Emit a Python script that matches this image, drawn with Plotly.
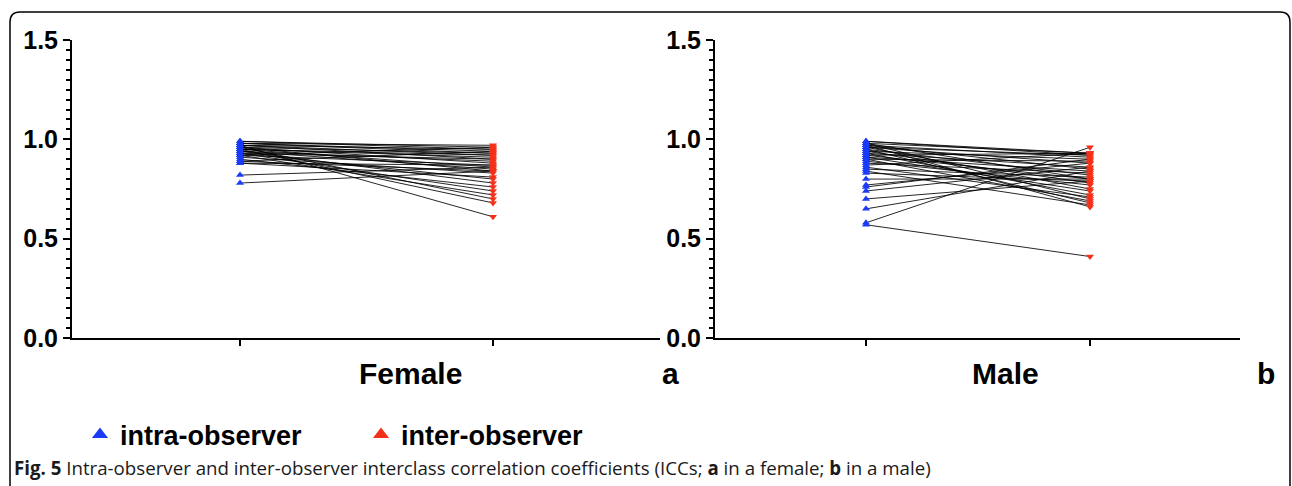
import plotly.graph_objects as go

# ---------------- data ----------------
groups = ["intra-observer", "inter-observer"]

female_intra = [0.99, 0.99, 0.98, 0.98, 0.98, 0.97, 0.97, 0.97, 0.97, 0.96, 0.96, 0.96, 0.96,
                0.95, 0.95, 0.95, 0.95, 0.94, 0.94, 0.94, 0.93, 0.93, 0.93, 0.92, 0.92, 0.92,
                0.91, 0.90, 0.89, 0.89, 0.88, 0.88, 0.82, 0.78]
female_inter = [0.96, 0.95, 0.97, 0.93, 0.94, 0.92, 0.95, 0.90, 0.61, 0.88, 0.93, 0.70, 0.84,
                0.91, 0.86, 0.68, 0.92, 0.78, 0.89, 0.85, 0.74, 0.90, 0.80, 0.87, 0.72, 0.96,
                0.83, 0.76, 0.84, 0.94, 0.81, 0.87, 0.86, 0.84]

male_intra = [0.99, 0.99, 0.98, 0.98, 0.98, 0.97, 0.97, 0.97, 0.96, 0.96, 0.96, 0.95, 0.95,
              0.94, 0.94, 0.93, 0.93, 0.92, 0.92, 0.91, 0.91, 0.90, 0.90, 0.89, 0.88, 0.87,
              0.86, 0.85, 0.84, 0.83, 0.80, 0.77, 0.76, 0.74, 0.70, 0.65, 0.58, 0.57]
male_inter = [0.93, 0.92, 0.80, 0.93, 0.70, 0.91, 0.85, 0.66, 0.92, 0.75, 0.88, 0.82, 0.68,
              0.90, 0.78, 0.86, 0.72, 0.93, 0.80, 0.74, 0.84, 0.89, 0.69, 0.77, 0.83, 0.93,
              0.71, 0.81, 0.67, 0.79, 0.80, 0.88, 0.90, 0.86, 0.79, 0.84, 0.96, 0.41]

y_tickvals = [0.0, 0.5, 1.0, 1.5]
y_ticktext = ["0.0", "0.5", "1.0", "1.5"]
panel_labels = ["Female", "Male"]
panel_letters = ["a", "b"]

BLUE = "#1a3cf5"
RED = "#f5301a"
FONT = "Liberation Sans, Arial, Helvetica, sans-serif"

W, H = 1292, 486


def px(x):
    return x / W


def py(y):
    return 1 - y / H


fig = go.Figure()

panels = [(female_intra, female_inter, "x", "y"), (male_intra, male_inter, "x2", "y2")]
for intra, inter, xa, ya in panels:
    lx, ly = [], []
    for a, b in zip(intra, inter):
        lx += [0, 1, None]
        ly += [a, b, None]
    fig.add_trace(go.Scatter(x=lx, y=ly, mode="lines", xaxis=xa, yaxis=ya,
                             line=dict(color="rgba(0,0,0,0.85)", width=1),
                             showlegend=False, hoverinfo="skip"))
    fig.add_trace(go.Scatter(x=[0] * len(intra), y=intra, mode="markers", xaxis=xa, yaxis=ya,
                             marker=dict(symbol="triangle-up", size=7, color=BLUE),
                             showlegend=False))
    fig.add_trace(go.Scatter(x=[1] * len(inter), y=inter, mode="markers", xaxis=xa, yaxis=ya,
                             marker=dict(symbol="triangle-down", size=7, color=RED),
                             showlegend=False))

# legend entries
fig.add_trace(go.Scatter(x=[None], y=[None], mode="markers", name=groups[0],
                         marker=dict(symbol="triangle-up", size=14, color=BLUE)))
fig.add_trace(go.Scatter(x=[None], y=[None], mode="markers", name=groups[1],
                         marker=dict(symbol="triangle-up", size=14, color=RED)))

y_common = dict(range=[0, 1.5], tickvals=y_tickvals, ticktext=y_ticktext,
                showline=True, linecolor="black", linewidth=2, automargin=False,
                ticks="outside", ticklen=7, tickwidth=2, tickcolor="black",
                minor=dict(dtick=0.05, ticks="outside", ticklen=4, tickwidth=1.5, tickcolor="black"),
                showgrid=False, zeroline=False,
                tickfont=dict(family=FONT, size=25, color="black", weight="bold"))
x_common = dict(tickvals=[0, 1], showticklabels=False, ticks="outside", ticklen=6, tickwidth=1.5,
                tickcolor="black", showline=True, linecolor="black", linewidth=1.5, automargin=False,
                showgrid=False, zeroline=False)

y0, y15 = 338, 40
ydom = [py(y0), py(y15)]

fig.update_layout(
    width=W, height=H, autosize=False,
    margin=dict(l=0, r=0, t=0, b=0, pad=0, autoexpand=False),
    paper_bgcolor="white", plot_bgcolor="white",
    xaxis=dict(domain=[px(72), px(660)], range=[-(240 - 72) / 253, (660 - 240) / 253], **x_common),
    yaxis=dict(domain=ydom, anchor="x", **y_common),
    xaxis2=dict(domain=[px(715), px(1240)], range=[-(866 - 715) / 224, (1240 - 866) / 224],
                anchor="y2", **x_common),
    yaxis2=dict(domain=ydom, anchor="x2", **y_common),
    showlegend=True,
    legend=dict(orientation="h", x=px(80), y=py(435), xanchor="left", yanchor="middle",
                entrywidth=236, entrywidthmode="pixels", bgcolor="rgba(0,0,0,0)",
                font=dict(family=FONT, size=27, color="black", weight="bold"),
                itemsizing="trace"),
)

for xc, t in [(410, panel_labels[0]), (1005, panel_labels[1])]:
    fig.add_annotation(x=px(xc), y=py(373), xref="paper", yref="paper", text=t, showarrow=False,
                       font=dict(family=FONT, size=30, color="black", weight="bold"),
                       xanchor="center", yanchor="middle")
for xc, t in [(670, panel_letters[0]), (1266, panel_letters[1])]:
    fig.add_annotation(x=px(xc), y=py(373), xref="paper", yref="paper", text=t, showarrow=False,
                       font=dict(family=FONT, size=30, color="black", weight="bold"),
                       xanchor="center", yanchor="middle")

caption = ("<b>Fig. 5</b> Intra-observer and inter-observer interclass correlation coefficients "
           "(ICCs; <b>a</b> in a female; <b>b</b> in a male)")
fig.add_annotation(x=px(12), y=py(467), xref="paper", yref="paper", text=caption, showarrow=False,
                   font=dict(family="Open Sans, Noto Sans, sans-serif", size=18.7, color="#1a1a1a"),
                   xanchor="left", yanchor="middle")

# rounded figure frame
r = 10
path = (f"M {px(10)},{py(486)} L {px(10)},{py(12 + r)} Q {px(10)},{py(12)} {px(10 + r)},{py(12)} "
        f"L {px(1290 - r)},{py(12)} Q {px(1290)},{py(12)} {px(1290)},{py(12 + r)} L {px(1290)},{py(486)}")
fig.add_shape(type="path", path=path, xref="paper", yref="paper",
              line=dict(color="black", width=1.5), layer="above")

fig.write_html("out.html", config={"displayModeBar": False},
               post_script="document.body.style.margin='0';document.body.style.overflow='hidden';")
